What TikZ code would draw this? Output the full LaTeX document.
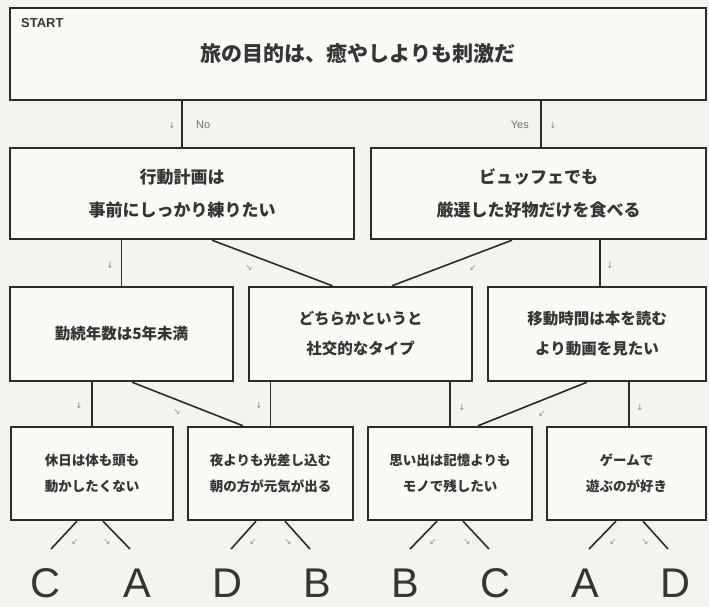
\documentclass[tikz,border=0pt]{standalone}
\usepackage{fontspec}
\setmainfont{Liberation Sans}
\newfontfamily\jp{Noto Sans CJK JP}
\newfontfamily\sym{DejaVu Sans}
\usetikzlibrary{calc}
\definecolor{bg}{HTML}{F4F3EE}
\definecolor{ink}{HTML}{2B2B2B}
\definecolor{txt}{HTML}{353535}
\definecolor{markc}{HTML}{8A8A8A}
\begin{document}
\begin{tikzpicture}[x=1pt,y=-1pt,
  box/.style={draw=ink, line width=2.4pt, fill=white!55!bg, inner sep=0pt, align=center, text=txt},
  t1/.style={font=\jp\bfseries\fontsize{21}{26}\selectfont},
  t2/.style={font=\jp\bfseries\fontsize{17}{33}\selectfont},
  t3/.style={font=\jp\bfseries\fontsize{15.5}{30}\selectfont},
  t4/.style={font=\jp\bfseries\fontsize{13.5}{26}\selectfont},
  link/.style={draw=ink, line width=1.6pt},
  arr/.style={text=markc, font=\sym\fontsize{8.5}{9}\selectfont, inner sep=0pt},
  lab/.style={text=black!55, font=\fontsize{11}{11}\selectfont, inner sep=0pt},
  big/.style={text=txt, font=\fontsize{41.5}{41.5}\selectfont, inner sep=0pt, text depth=0pt, anchor=base}]
\fill[bg] (0,0) rectangle (709,607);
\useasboundingbox (0,0) rectangle (709,607);

% boxes
\node[box, t1, minimum width=696pt, minimum height=92pt] (top) at (358,54) {旅の目的は、癒やしよりも刺激だ};
\node[anchor=west, inner sep=0pt, text=txt, font=\bfseries\fontsize{13}{13}\selectfont] (start) at (21,23) {START};

\node[box, t2, minimum width=344pt, minimum height=91pt] (r2a) at (182,193.5) {行動計画は\\事前にしっかり練りたい};
\node[box, t2, minimum width=335pt, minimum height=91pt] (r2b) at (538.5,193.5) {ビュッフェでも\\厳選した好物だけを食べる};

\node[box, t3, minimum width=223pt, minimum height=94pt] (r3a) at (121.5,334) {勤続年数は5年未満};
\node[box, t3, minimum width=223pt, minimum height=94pt] (r3b) at (360.5,334) {どちらかというと\\社交的なタイプ};
\node[box, t3, minimum width=218pt, minimum height=94pt] (r3c) at (597,334) {移動時間は本を読む\\より動画を見たい};

\node[box, t4, minimum width=162pt, minimum height=93pt] (r4a) at (92,473.5) {休日は体も頭も\\動かしたくない};
\node[box, t4, minimum width=165pt, minimum height=93pt] (r4b) at (270.5,473.5) {夜よりも光差し込む\\朝の方が元気が出る};
\node[box, t4, minimum width=164pt, minimum height=93pt] (r4c) at (450,473.5) {思い出は記憶よりも\\モノで残したい};
\node[box, t4, minimum width=159pt, minimum height=93pt] (r4d) at (626.5,473.5) {ゲームで\\遊ぶのが好き};

% result letters
\node[big] (la) at (45,597.5) {C};
\node[big] (lb) at (137,597.5) {A};
\node[big] (lc) at (227,597.5) {D};
\node[big] (ld) at (317,597.5) {B};
\node[big] (le) at (405,597.5) {B};
\node[big] (lf) at (495,597.5) {C};
\node[big] (lg) at (585,597.5) {A};
\node[big] (lh) at (675,597.5) {D};

% top -> row 2
\draw[link] (top.south -| r2a.north) -- (r2a.north);
\draw[link] ($(top.south -| r2b.north)+(2.5,0)$) -- ($(r2b.north)+(2.5,0)$);
\node[arr] (a01) at (172,125) {↓};
\node[lab, anchor=west] (no) at (196,125) {No};
\node[lab, anchor=east] (yes) at (529,125) {Yes};
\node[arr] (a02) at (553,125) {↓};

% row 2 -> row 3
\draw[link] (r2a.south -| r3a.north) -- (r3a.north);
\draw[link] ($(r2a.south)+(30,0)$) -- ($(r3b.north)+(-28,0)$);
\draw[link] ($(r2b.south)+(-26.5,0)$) -- ($(r3b.north)+(31.5,0)$);
\draw[link] ($(r2b.south -| r3c.north)+(3,0)$) -- ($(r3c.north)+(3,0)$);
\node[arr] (a11) at (110,265) {↓};
\node[arr] (a12) at (249,268) {↘};
\node[arr] (a13) at (473,268) {↙};
\node[arr] (a14) at (610,265) {↓};

% row 3 -> row 4
\draw[link] (r3a.south -| r4a.north) -- (r4a.north);
\draw[link] ($(r3a.south)+(10.5,0)$) -- ($(r4b.north)+(-27.5,0)$);
\draw[link] (r3b.south -| r4b.north) -- (r4b.north);
\draw[link] (r3b.south -| r4c.north) -- (r4c.north);
\draw[link] ($(r3c.south)+(-10,0)$) -- ($(r4c.north)+(28,0)$);
\draw[link] ($(r3c.south -| r4d.north)+(2.5,0)$) -- ($(r4d.north)+(2.5,0)$);
\node[arr] (a21) at (79,405) {↓};
\node[arr] (a22) at (177,412) {↘};
\node[arr] (a23) at (259,405) {↓};
\node[arr] (a24) at (462,407) {↓};
\node[arr] (a25) at (542,414) {↙};
\node[arr] (a26) at (640,407) {↓};

% row 4 -> letters
\coordinate (e1) at (51,549);  \coordinate (e2) at (130,549);
\coordinate (e3) at (231,549); \coordinate (e4) at (310,549);
\coordinate (e5) at (410,549); \coordinate (e6) at (489,549);
\coordinate (e7) at (589,549); \coordinate (e8) at (668,549);
\draw[link] ($(r4a.south)+(-15,0)$) -- (e1);
\draw[link] ($(r4a.south)+(11,0)$) -- (e2);
\draw[link] ($(r4b.south)+(-14.5,0)$) -- (e3);
\draw[link] ($(r4b.south)+(14.5,0)$) -- (e4);
\draw[link] ($(r4c.south)+(-13,0)$) -- (e5);
\draw[link] ($(r4c.south)+(13,0)$) -- (e6);
\draw[link] ($(r4d.south)+(-10.5,0)$) -- (e7);
\draw[link] ($(r4d.south)+(16.5,0)$) -- (e8);
\node[arr] (b1) at (75,542) {↙};
\node[arr] (b2) at (107,542) {↘};
\node[arr] (b3) at (253,542) {↙};
\node[arr] (b4) at (288,542) {↘};
\node[arr] (b5) at (433,542) {↙};
\node[arr] (b6) at (467,542) {↘};
\node[arr] (b7) at (613,542) {↙};
\node[arr] (b8) at (645,542) {↘};
\end{tikzpicture}
\end{document}
